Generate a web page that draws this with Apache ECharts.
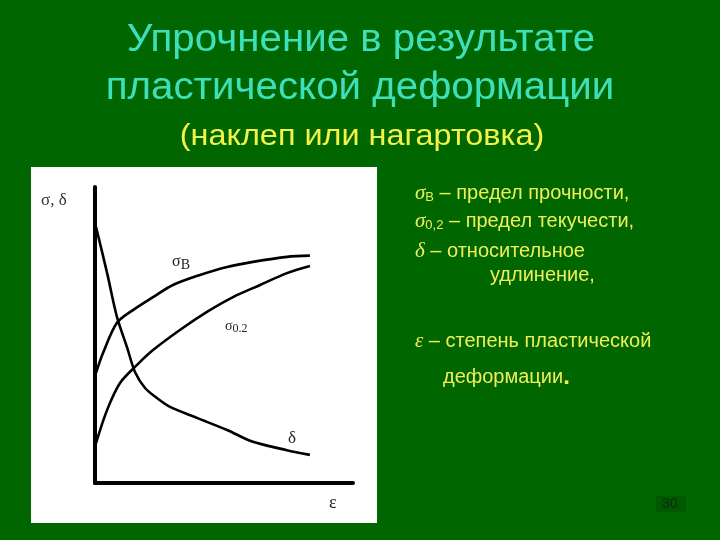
<!DOCTYPE html>
<html>
<head>
<meta charset="utf-8">
<style>
  html, body { margin: 0; padding: 0; background: #006600; }
  #chart { width: 720px; height: 540px; }
</style>
<script src="https://cdn.jsdelivr.net/npm/echarts@6/dist/echarts.min.js"></script>
</head>
<body>
<div id="chart"></div>
<script>
// деформация ε (условные единицы, 0..100) и значения кривых
const deltaX = [0.4, 4.7, 8.5, 12.4, 15.5, 19.4, 24.0, 29.1, 39.5, 51.2, 61.2, 74.4, 83.3]
const deltaY = [86.5, 70.9, 56.1, 45.9, 37.5, 32.1, 28.7, 25.7, 22.0, 17.9, 13.9, 11.1, 9.5]

const sigmaBX = [0.4, 3.1, 8.5, 14.7, 22.5, 30.2, 40.7, 51.2, 61.2, 74.4, 83.3]
const sigmaBY = [37.2, 43.9, 54.1, 58.4, 62.8, 66.9, 70.3, 73.0, 74.7, 76.4, 76.8]

const sigma02X = [0.4, 4.7, 9.7, 16.3, 22.5, 32.9, 43.4, 53.5, 64.0, 74.4, 83.3]
const sigma02Y = [13.5, 24.7, 33.8, 39.9, 44.9, 51.7, 57.8, 62.8, 66.9, 70.9, 73.3]

const zip = (xs, ys) => xs.map((x, i) => [x, ys[i]])

const chart = echarts.init(document.getElementById('chart'))

const sans = '"Liberation Sans", Arial, sans-serif'
const serif = '"Liberation Serif", "Times New Roman", serif'
const yellow = '#eeee58'
const teal = '#3ee0bc'

const lineStyle = { color: '#000', width: 2.6 }

function curve (name, xs, ys) {
  return {
    name: name,
    type: 'line',
    smooth: 0.3,
    symbol: 'none',
    lineStyle: lineStyle,
    data: zip(xs, ys)
  }
}

// строка пояснения справа: греческая буква, индекс и текст
function legendLine (y, sym, sub, rest) {
  return {
    type: 'text', x: 415, y: y,
    style: {
      text: '{s|' + sym + '}' + (sub ? '{sub|' + sub + '}' : '') + '{t|' + rest + '}',
      fill: yellow,
      verticalAlign: 'middle',
      rich: {
        s: { font: 'italic 21px ' + serif, fill: yellow },
        sub: { font: '13px ' + sans, fill: yellow, padding: [9, 0, 0, 0] },
        t: { font: '20px ' + sans, fill: yellow }
      }
    }
  }
}

const option = {
  backgroundColor: '#006600',
  animation: false,
  grid: {
    left: 95,
    top: 187,
    width: 258,
    height: 296
  },
  xAxis: {
    type: 'value',
    min: 0,
    max: 100,
    axisLine: { show: true, onZero: false, lineStyle: { color: '#000', width: 4 } },
    axisTick: { show: false },
    axisLabel: { show: false },
    splitLine: { show: false }
  },
  yAxis: {
    type: 'value',
    min: 0,
    max: 100,
    axisLine: { show: true, onZero: false, lineStyle: { color: '#000', width: 4 } },
    axisTick: { show: false },
    axisLabel: { show: false },
    splitLine: { show: false }
  },
  series: [
    curve('δ', deltaX, deltaY),
    curve('σB', sigmaBX, sigmaBY),
    curve('σ0.2', sigma02X, sigma02Y)
  ],
  graphic: [
    // белая подложка графика
    {
      type: 'rect', z: -10, silent: true,
      shape: { x: 31, y: 167, width: 346, height: 356 },
      style: { fill: '#ffffff' }
    },
    // заголовок
    {
      type: 'text', x: 361, y: 22, scaleX: 1.06,
      style: {
        text: 'Упрочнение в результате', fill: teal,
        font: '38px ' + sans, align: 'center', verticalAlign: 'top',
        shadowColor: 'rgba(0,40,0,0.8)', shadowOffsetX: 2, shadowOffsetY: 2, shadowBlur: 1
      }
    },
    {
      type: 'text', x: 360, y: 70, scaleX: 1.06,
      style: {
        text: 'пластической деформации', fill: teal,
        font: '38px ' + sans, align: 'center', verticalAlign: 'top',
        shadowColor: 'rgba(0,40,0,0.8)', shadowOffsetX: 2, shadowOffsetY: 2, shadowBlur: 1
      }
    },
    {
      type: 'text', x: 362, y: 122, scaleX: 1.08,
      style: {
        text: '(наклеп или нагартовка)', fill: '#f2f24a',
        font: '30px ' + sans, align: 'center', verticalAlign: 'top'
      }
    },
    // подписи на графике
    { type: 'text', x: 41, y: 192, style: { text: 'σ, δ', fill: '#333', font: '17px ' + serif } },
    {
      type: 'text', x: 172, y: 252,
      style: {
        text: '{a|σ}{b|B}', fill: '#222',
        rich: { a: { font: '16px ' + serif }, b: { font: '14px ' + serif, padding: [6, 0, 0, 0] } }
      }
    },
    {
      type: 'text', x: 225, y: 317,
      style: {
        text: '{a|σ}{b|0.2}', fill: '#222',
        rich: { a: { font: '14px ' + serif }, b: { font: '12px ' + serif, padding: [6, 0, 0, 0] } }
      }
    },
    { type: 'text', x: 288, y: 430, style: { text: 'δ', fill: '#222', font: '17px ' + serif } },
    { type: 'text', x: 329, y: 494, style: { text: 'ε', fill: '#222', font: '18px ' + serif } },
    // пояснения справа
    legendLine(193, 'σ', 'B', ' – предел прочности,'),
    legendLine(221, 'σ', '0,2', ' – предел текучести,'),
    legendLine(251, 'δ', '', ' – относительное'),
    { type: 'text', x: 490, y: 275, style: { text: 'удлинение,', fill: yellow, font: '20px ' + sans, verticalAlign: 'middle' } },
    legendLine(341, 'ε', '', ' – степень пластической'),
    {
      type: 'text', x: 443, y: 377,
      style: {
        text: 'деформации{d|.}', fill: yellow, font: '20px ' + sans, verticalAlign: 'middle',
        rich: { d: { font: 'bold 24px ' + sans, fill: yellow } }
      }
    },
    // номер слайда
    {
      type: 'rect', shape: { x: 656, y: 496, width: 30, height: 16 },
      style: { fill: '#005800' }
    },
    { type: 'text', x: 662, y: 497, style: { text: '30', fill: '#0c2c0c', font: '14px ' + sans } }
  ]
}

chart.setOption(option)
</script>
</body>
</html>
